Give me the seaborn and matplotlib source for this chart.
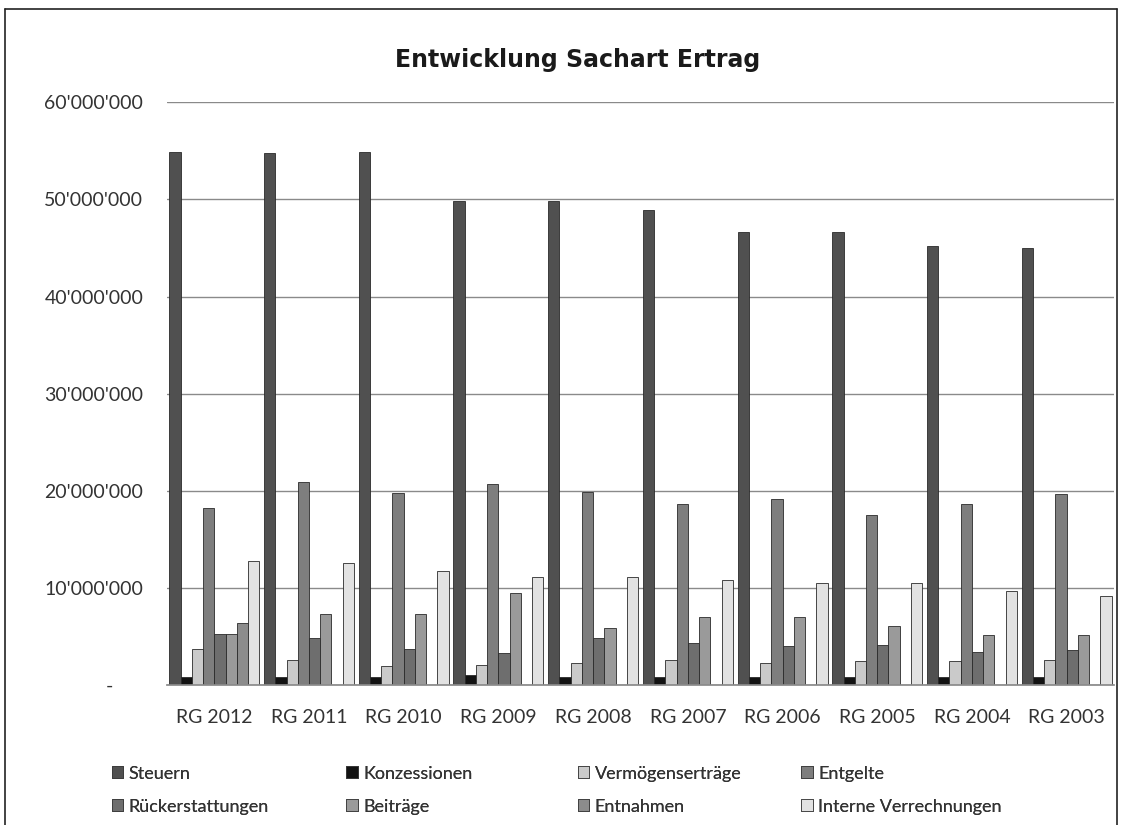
import matplotlib
matplotlib.use("Agg")
import matplotlib.pyplot as plt
import matplotlib.ticker as mticker
from matplotlib.lines import Line2D
from matplotlib.patches import Patch
import pandas as pd
import seaborn as sns

years = ["RG 2012", "RG 2011", "RG 2010", "RG 2009", "RG 2008",
         "RG 2007", "RG 2006", "RG 2005", "RG 2004", "RG 2003"]

steuern = [54.9e6, 54.8e6, 54.9e6, 49.8e6, 49.8e6, 48.9e6, 46.7e6, 46.7e6, 45.2e6, 45.0e6]
konzessionen = [0.8e6, 0.8e6, 0.8e6, 1.0e6, 0.8e6, 0.8e6, 0.8e6, 0.8e6, 0.8e6, 0.8e6]
vermoegen = [3.7e6, 2.6e6, 2.0e6, 2.1e6, 2.3e6, 2.6e6, 2.3e6, 2.5e6, 2.5e6, 2.6e6]
entgelte = [18.2e6, 20.9e6, 19.8e6, 20.7e6, 19.9e6, 18.6e6, 19.2e6, 17.5e6, 18.6e6, 19.7e6]
rueckerst = [5.3e6, 4.8e6, 3.7e6, 3.3e6, 4.8e6, 4.3e6, 4.0e6, 4.1e6, 3.4e6, 3.6e6]
beitraege = [5.3e6, 7.3e6, 7.3e6, 9.5e6, 5.9e6, 7.0e6, 7.0e6, 6.1e6, 5.1e6, 5.1e6]
entnahmen = [6.4e6, 0.05e6, 0.05e6, 0.05e6, 0.05e6, 0.05e6, 0.05e6, 0.05e6, 0.05e6, 0.05e6]
interne = [12.8e6, 12.6e6, 11.7e6, 11.1e6, 11.1e6, 10.8e6, 10.5e6, 10.5e6, 9.7e6, 9.2e6]

series = ["Steuern", "Konzessionen", "Vermögenserträge", "Entgelte",
          "Rückerstattungen", "Beiträge", "Entnahmen", "Interne Verrechnungen"]
values = [steuern, konzessionen, vermoegen, entgelte,
          rueckerst, beitraege, entnahmen, interne]
colors = ["#505050", "#121212", "#cacaca", "#7e7e7e",
          "#6e6e6e", "#9a9a9a", "#8c8c8c", "#e2e2e2"]

rows = []
for name, vals in zip(series, values):
    for yr, v in zip(years, vals):
        rows.append({"year": yr, "series": name, "value": v})
df = pd.DataFrame(rows)

sns.set_theme(style="white")
plt.rcParams["font.family"] = ["Lato", "DejaVu Sans"]

fig = plt.figure(figsize=(11.28, 8.25), dpi=100)
ax = fig.add_axes([0.148, 0.1697, 0.8396, 0.7062])

sns.barplot(data=df, x="year", y="value", hue="series", hue_order=series,
            order=years, palette=colors, width=0.95, saturation=1,
            edgecolor="#2a2a2a", linewidth=0.6, legend=False, ax=ax)

ax.set_ylim(0, 60e6)
ax.set_yticks([i * 10e6 for i in range(7)])


def fmt(v, pos):
    if v == 0:
        return "-      "
    return f"{v:,.0f}".replace(",", "'")


ax.yaxis.set_major_formatter(mticker.FuncFormatter(fmt))
ax.yaxis.grid(True, color="#8a8a8a", linewidth=1)
ax.set_axisbelow(True)
ax.set_xlabel("")
ax.set_ylabel("")
for s in ["left", "top", "right"]:
    ax.spines[s].set_visible(False)
ax.spines["bottom"].set_color("#8a8a8a")
ax.tick_params(axis="y", length=0, pad=17, labelsize=14, labelcolor="#333333")
ax.tick_params(axis="x", length=0, pad=17, labelsize=14, labelcolor="#333333")

fig.text(0.512, 0.927, "Entwicklung Sachart Ertrag", ha="center", va="center",
         fontsize=17, fontweight="bold", family=["DejaVu Sans"],
         color="#1a1a1a")

# legend: four columns placed like the reference
handles = [Patch(facecolor=c, edgecolor="#3a3a3a", linewidth=0.6) for c in colors]
col_x = [0.099, 0.307, 0.512, 0.710]
for j, x in enumerate(col_x):
    idx = [j, j + 4]
    leg = fig.legend([handles[i] for i in idx], [series[i] for i in idx],
                     loc="upper left", bbox_to_anchor=(x, 0.072), frameon=False,
                     fontsize=13, handlelength=0.65, handleheight=0.65,
                     handletextpad=0.3, labelspacing=0.95, borderpad=0,
                     borderaxespad=0)
    for t in leg.get_texts():
        t.set_color("#333333")
    fig.add_artist(leg)

# outer chart frame
frame = dict(color="#222222", linewidth=1.2, transform=fig.transFigure)
fig.add_artist(Line2D([0.004, 0.004], [0, 0.989], **frame))
fig.add_artist(Line2D([0.004, 0.990], [0.989, 0.989], **frame))
fig.add_artist(Line2D([0.990, 0.990], [0, 0.989], **frame))

fig.savefig("out.png", dpi=100)
